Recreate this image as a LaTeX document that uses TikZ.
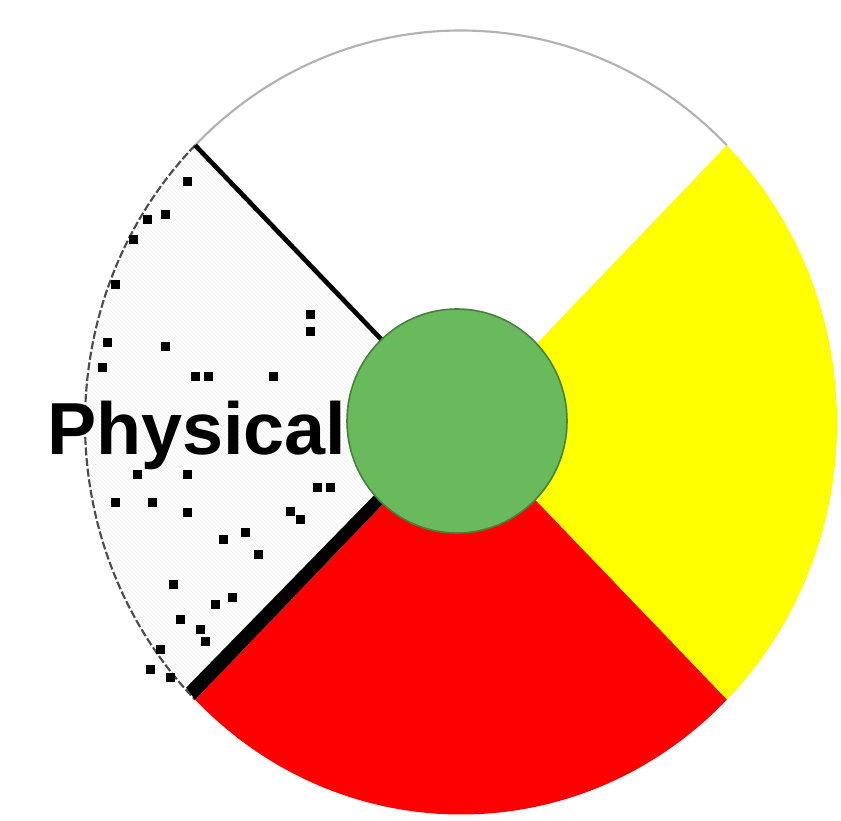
\documentclass[tikz,border=0pt]{standalone}
\usepackage{fontspec}
\setsansfont{Liberation Sans}
\usetikzlibrary{patterns,calc}
\definecolor{wheelGreen}{RGB}{104,186,92}
\definecolor{wheelGreenDark}{RGB}{72,128,62}
\definecolor{wheelRed}{RGB}{255,0,0}
\definecolor{wheelYellow}{RGB}{255,255,0}

\begin{document}
\begin{tikzpicture}[x=0.75pt, y=0.75pt,
  quarter/.style={fill=#1, draw=none},
  rim/.style={draw=#1, line width=1.6pt},
  edge/.style={draw=black, line width=#1},
  speck/.style={fill=black}
]
  \useasboundingbox[fill=white] (0,0) rectangle (841,820);
  \coordinate (c) at (461,397.5);
  \coordinate (hub) at (457,399);

  % four quarters of the wheel
  \fill[quarter=white] (c) -- ++(45:376 and 392)
    arc[start angle=45, end angle=135, x radius=376, y radius=392] -- cycle;
  \fill[quarter=wheelYellow] (c) -- ++(-45:376 and 392)
    arc[start angle=-45, end angle=45, x radius=376, y radius=392] -- cycle;
  \fill[quarter=wheelRed] (c) -- ++(225:376 and 392)
    arc[start angle=225, end angle=315, x radius=376, y radius=392] -- cycle;
  \fill[quarter=white, pattern=north west lines, pattern color=black!6]
    (c) -- ++(135:376 and 392)
    arc[start angle=135, end angle=225, x radius=376, y radius=392] -- cycle;

  % rim
  \draw[rim=black!30] ($(c)+(45:376 and 392)$)
    arc[start angle=45, end angle=135, x radius=376, y radius=392];
  \draw[rim=black!70, dash pattern=on 6pt off 2pt] ($(c)+(135:376 and 392)$)
    arc[start angle=135, end angle=225, x radius=376, y radius=392];

  % dark edges of the left quarter
  \coordinate (tl) at ($(c)+(135:376 and 392)$);
  \coordinate (bl) at ($(c)+(225:376 and 392)$);
  \draw[edge=3.5pt] (tl) -- (c);
  \fill[black] (bl) -- (c) -- ($(c)+(-8,8)$) -- ($(bl)+(-9,12)$) -- cycle;

  % specks
  \foreach \x/\y in {187/638,165/605,147/600,133/580,115/535,107/477,
                     102/452,165/473,195/443,208/443,273/443,310/505,
                     310/488,137/345,187/345,115/317,152/317,187/307,
                     223/280,245/287,258/265,173/235,290/308,317/332,
                     330/332,180/200,200/190,215/215,160/170,
                     232/222,150/150,170/142,205/178,300/300}
    \fill[speck] (\x-4.5,\y-4.5) rectangle ++(9,9);

  % centre
  \draw[fill=wheelGreen, draw=wheelGreenDark, line width=1.2pt]
    (hub) circle[x radius=110, y radius=112];

  % label
  \node[anchor=base west, inner sep=0pt,
        font=\sffamily\bfseries\fontsize{55.3}{60}\selectfont] (physical)
    at (47,365) {Physical};
\end{tikzpicture}
\end{document}
